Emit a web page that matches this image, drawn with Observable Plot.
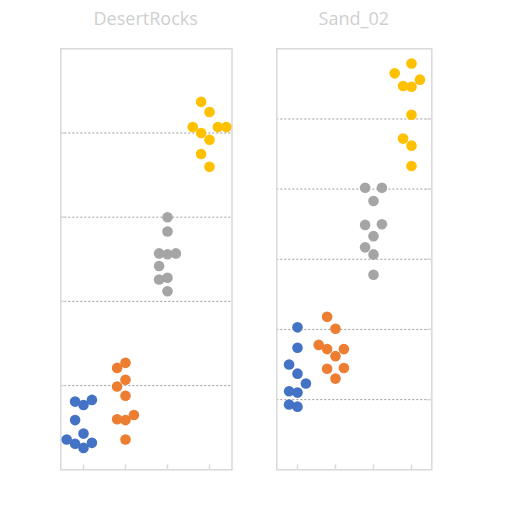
<!DOCTYPE html>
<html><head><meta charset="utf-8">
<script src="https://cdn.jsdelivr.net/npm/d3@7"></script>
<script src="https://cdn.jsdelivr.net/npm/@observablehq/plot@0.6"></script>
<style>
html,body{margin:0;padding:0;background:#fff;}
#wrap{position:relative;width:512px;height:512px;overflow:hidden;font-family:"Open Sans",sans-serif;}
.panel{position:absolute;top:0;}
.title{position:absolute;top:9px;width:200px;font-size:18px;line-height:18px;color:#cfcfcf;text-align:center;white-space:nowrap;}
</style></head><body><div id="wrap"></div>
<script>
const categories = ["A", "B", "C", "D"];
const colors = ["#4472C4", "#ED7D31", "#A5A5A5", "#FFC000"];
const panelTitles = ["DesertRocks", "Sand_02"];
const gridDesert = [1, 2, 3, 4];
const gridSand = [1, 2, 3, 4, 5];

// DesertRocks values and jitter slots per category
const desertA = [0.81, 0.77, 0.83, 0.59, 0.43, 0.36, 0.31, 0.26, 0.32];
const desertASlot = [-1, 0, 1, -1, 0, -2, -1, 0, 1];
const desertB = [1.21, 1.27, 1.07, 0.99, 0.88, 0.60, 0.59, 0.65, 0.36];
const desertBSlot = [-1, 0, 0, -1, 0, -1, 0, 1, 0];
const desertC = [3.00, 2.83, 2.57, 2.56, 2.57, 2.42, 2.26, 2.28, 2.12];
const desertCSlot = [0, 0, -1, 0, 1, -1, -1, 0, 0];
const desertD = [4.37, 4.25, 4.07, 4.00, 4.07, 4.07, 3.92, 3.75, 3.60];
const desertDSlot = [-1, 0, -2, -1, 1, 2, 0, -1, 0];

// Sand_02 values and jitter slots per category
const sandA = [2.03, 1.74, 1.50, 1.37, 1.23, 1.12, 1.10, 0.93, 0.90];
const sandASlot = [0, 0, -1, 0, 1, -1, 0, -1, 0];
const sandB = [2.18, 2.01, 1.78, 1.72, 1.72, 1.62, 1.44, 1.45, 1.30];
const sandBSlot = [-1, 0, -2, -1, 1, 0, -1, 1, 0];
const sandC = [4.02, 4.02, 3.83, 3.49, 3.50, 3.33, 3.17, 3.07, 2.78];
const sandCSlot = [-1, 1, 0, -1, 1, 0, -1, 0, 0];
const sandD = [5.79, 5.65, 5.56, 5.47, 5.46, 5.06, 4.72, 4.62, 4.33];
const sandDSlot = [0, -2, 1, -1, 0, 0, -1, 0, 0];

function rowsOf(valueLists, slotLists) {
  const rows = [];
  categories.forEach((c, i) => valueLists[i].forEach((v, j) => rows.push({cat: c, value: v, slot: slotLists[i][j]})));
  return rows;
}
const desertRows = rowsOf([desertA, desertB, desertC, desertD], [desertASlot, desertBSlot, desertCSlot, desertDSlot]);
const sandRows = rowsOf([sandA, sandB, sandC, sandD], [sandASlot, sandBSlot, sandCSlot, sandDSlot]);

function panel({rows, ticks, ymax, width, marginLeft, marginRight, tickSide}) {
  const H = 512, mt = 48.3, mb = 42.7;
  const plotW = width - marginLeft - marginRight;
  const plotH = H - mt - mb;
  const marks = [
    Plot.ruleY(ticks, {stroke: "#9a9a9a", strokeDasharray: "2,2", strokeWidth: 1}),
    Plot.tickY(ticks, {stroke: "#d9d9d9", strokeWidth: 1.5,
      insetLeft: tickSide === "right" ? plotW - 5 : 0,
      insetRight: tickSide === "left" ? plotW - 5 : 0}),
    Plot.tickX(categories, {x: d => d, stroke: "#d9d9d9", strokeWidth: 1.5, insetTop: plotH - 5}),
    Plot.frame({stroke: "#d9d9d9", strokeWidth: 1.5})
  ];
  for (const s of [-2, -1, 0, 1, 2]) {
    marks.push(Plot.dot(rows.filter(d => d.slot === s), {x: "cat", y: "value", fill: "cat", r: 5.3, dx: s * 8.4}));
  }
  return Plot.plot({
    width, height: H, marginTop: mt, marginBottom: mb, marginLeft, marginRight,
    x: {type: "band", domain: categories, padding: 0, axis: null},
    y: {domain: [0, ymax], axis: null},
    color: {domain: categories, range: colors},
    marks
  });
}

const wrap = document.getElementById("wrap");
const p1 = panel({rows: desertRows, ticks: gridDesert, ymax: 5, width: 256, marginLeft: 60.3, marginRight: 24.5, tickSide: "left"});
p1.classList.add("panel"); p1.style.left = "0px";
const p2 = panel({rows: sandRows, ticks: gridSand, ymax: 6, width: 256, marginLeft: 20.3, marginRight: 80.7, tickSide: "right"});
p2.classList.add("panel"); p2.style.left = "256px";
wrap.appendChild(p1); wrap.appendChild(p2);

[[panelTitles[0], 145.7], [panelTitles[1], 353.8]].forEach(([t, cx]) => {
  const d = document.createElement("div");
  d.className = "title";
  d.textContent = t;
  d.style.left = (cx - 100) + "px";
  wrap.appendChild(d);
});
</script>
</body></html>
